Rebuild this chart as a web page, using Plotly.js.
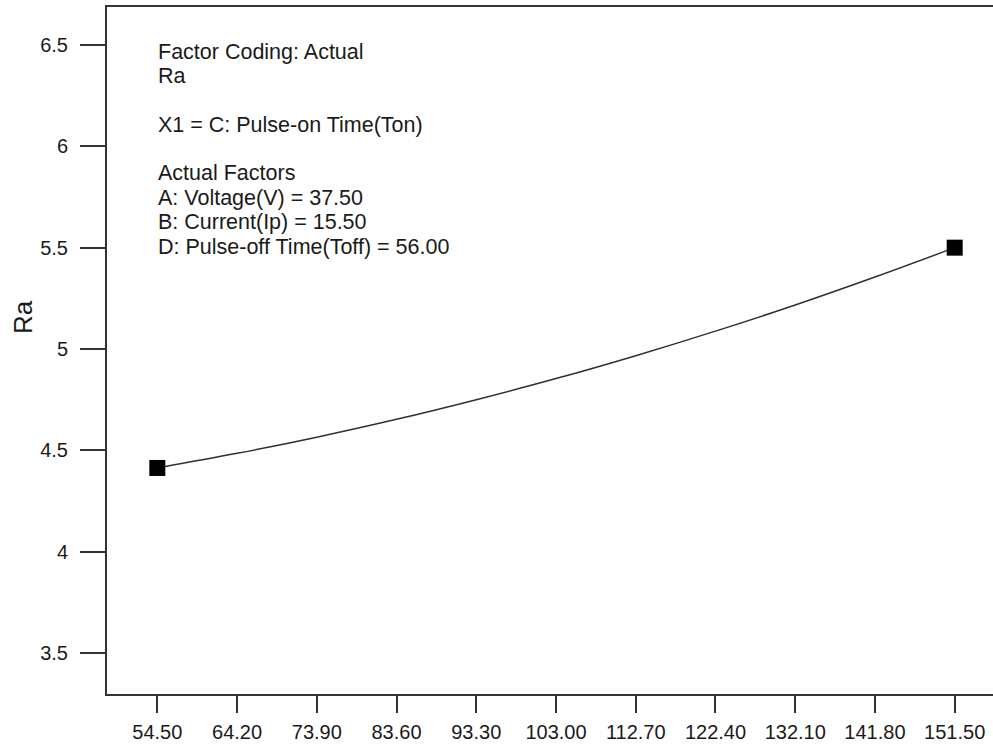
<!DOCTYPE html>
<html>
<head>
<meta charset="utf-8">
<script src="https://cdn.plot.ly/plotly-3.0.1.min.js"></script>
<style>html,body{margin:0;padding:0;background:#fff;}#chart{width:993px;height:744px;}</style>
</head>
<body>
<div id="chart"></div>
<script>
// Pulse-on Time (Ton) values
const tonValues = [54.5, 64.2, 73.9, 83.6, 93.3, 103.0, 112.7, 122.4, 132.1, 141.8, 151.5];
// Predicted Ra
const raValues = [4.413, 4.485, 4.565, 4.653, 4.750, 4.854, 4.967, 5.088, 5.217, 5.355, 5.500];
// Endpoint design points
const endTon = [54.5, 151.5];
const endRa = [4.413, 5.500];
const xTickVals = [54.5, 64.2, 73.9, 83.6, 93.3, 103.0, 112.7, 122.4, 132.1, 141.8, 151.5];
const xTickText = ["54.50", "64.20", "73.90", "83.60", "93.30", "103.00", "112.70", "122.40", "132.10", "141.80", "151.50"];
const yTickVals = [3.5, 4, 4.5, 5, 5.5, 6, 6.5];
const yTickText = ["3.5", "4", "4.5", "5", "5.5", "6", "6.5"];
const infoLines = [
  "Factor Coding: Actual",
  "Ra",
  "",
  "X1 = C: Pulse-on Time(Ton)",
  "",
  "Actual Factors",
  "A: Voltage(V) = 37.50",
  "B: Current(Ip) = 15.50",
  "D: Pulse-off Time(Toff) = 56.00"
];

const font = "Liberation Sans, Arial, sans-serif";
const W = 993, H = 744, ML = 107, MR = 0, MT = 7, MB = 50;
const PW = W - ML - MR, PH = H - MT - MB;
const lineStep = 24.4, firstLineY = 51.5, textLeft = 157;

const traces = [
  {
    x: tonValues, y: raValues, type: "scatter", mode: "lines",
    line: {color: "#303030", width: 1.5, shape: "spline"},
    hoverinfo: "skip", showlegend: false
  },
  {
    x: endTon, y: endRa, type: "scatter", mode: "markers",
    marker: {symbol: "square", size: 16, color: "#000000"},
    showlegend: false
  }
];

const annotations = [];
infoLines.forEach((t, i) => {
  if (!t) return;
  const py = firstLineY + i * lineStep;
  annotations.push({
    xref: "paper", yref: "paper", x: (textLeft - ML) / PW, y: (H - MB - py) / PH,
    xanchor: "left", yanchor: "middle", align: "left", showarrow: false,
    borderpad: 0,
    text: t,
    font: {family: font, size: 21.5, color: "#1a1a1a"}
  });
});
annotations.push({
  xref: "paper", yref: "paper", x: -(ML - 23) / PW, y: (H - MB - 317) / PH,
  xanchor: "center", yanchor: "middle", showarrow: false, textangle: -90,
  text: "Ra",
  font: {family: font, size: 26, color: "#1a1a1a"}
});

const layout = {
  width: W, height: H,
  margin: {l: ML, r: MR, t: MT, b: MB},
  paper_bgcolor: "#ffffff", plot_bgcolor: "#ffffff",
  font: {family: font, size: 20, color: "#1a1a1a"},
  showlegend: false,
  xaxis: {
    range: [48.38, 156.16],
    tickvals: xTickVals, ticktext: xTickText,
    ticks: "outside", ticklen: 17, tickwidth: 2, tickcolor: "#333333",
    ticklabelstandoff: 2,
    showline: true, linecolor: "#333333", linewidth: 2, mirror: true,
    showgrid: false, zeroline: false,
    tickfont: {family: font, size: 20, color: "#1a1a1a"}
  },
  yaxis: {
    range: [3.2976, 6.6875],
    tickvals: yTickVals, ticktext: yTickText,
    ticks: "outside", ticklen: 25, tickwidth: 2, tickcolor: "#333333",
    ticklabelstandoff: 8,
    showline: true, linecolor: "#333333", linewidth: 2,
    showgrid: false, zeroline: false,
    tickfont: {family: font, size: 20, color: "#1a1a1a"}
  },
  annotations: annotations
};

Plotly.newPlot("chart", traces, layout, {staticPlot: true, displayModeBar: false});
</script>
</body>
</html>
